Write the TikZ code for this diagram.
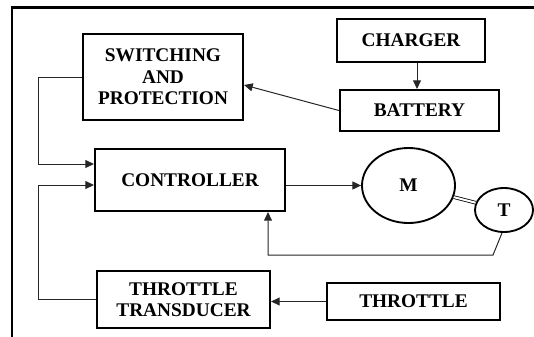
\documentclass[tikz,border=0pt]{standalone}
\usepackage{fontspec}
\setmainfont{Liberation Serif}
\usetikzlibrary{arrows.meta,shapes.geometric}
\tikzset{
  blk/.style={rectangle, draw, line width=1.6pt, align=center, inner sep=1pt,
    font=\fontsize{14.5}{16}\selectfont\bfseries},
  rot/.style={ellipse, draw, line width=1.4pt, inner sep=0pt,
    font=\fontsize{14.5}{16}\selectfont\bfseries},
  arr/.style={-{Triangle[length=6.5pt,width=6pt]}, line width=0.75pt, draw=black!85},
  frame/.style={line width=1.6pt}
}

\begin{document}
\begin{tikzpicture}[x=0.75pt,y=-0.75pt]
\useasboundingbox (0,0) rectangle (534,336);
\draw[frame] (12,345) -- (12,7.5) -- (545,7.5);

\node[blk, minimum width=120pt, minimum height=64.5pt] (sw) at (163,77) {SWITCHING\\AND\\PROTECTION};
\node[blk, minimum width=111pt, minimum height=32.25pt] (chg) at (411,40.5) {CHARGER};
\node[blk, minimum width=119.25pt, minimum height=30.75pt] (bat) at (419.5,110.5) {BATTERY};
\node[blk, minimum width=142.5pt, minimum height=46.5pt] (ctrl) at (190,180) {CONTROLLER};
\node[blk, minimum width=129.75pt, minimum height=42.75pt] (trans) at (183.5,299.5) {THROTTLE\\TRANSDUCER};
\node[blk, minimum width=129.75pt, minimum height=27.75pt] (thr) at (413.5,301.5) {THROTTLE};
\node[rot, minimum width=69.75pt, minimum height=56.25pt] (mot) at (408.5,185.5) {M};
\node[rot, minimum width=43.5pt, minimum height=33pt] (tach) at (504,210) {T};

\coordinate (lft) at (38,0);
\coordinate (fb) at (493,255);

\draw[arr] ([xshift=4.5pt]chg.south) -- ([xshift=4.5pt]chg.south |- bat.north);
\draw[arr] (bat.west) -- ([yshift=-6pt]sw.east);
\draw[arr] (sw.west) -- (sw.west -| lft) |- ([yshift=12pt]ctrl.west);
\draw[arr] (trans.west) -- (trans.west -| lft) |- ([yshift=-3.75pt]ctrl.west);
\draw[arr] (mot.west -| ctrl.east) -- (mot.west);
\draw[double, double distance=1.5pt, line width=0.6pt] (mot) -- (tach);
\draw[arr] ([xshift=-1.5pt]tach.south) -- (fb) -| ([xshift=58.5pt]ctrl.south);
\draw[arr] (thr.west) -- (thr.west -| trans.east);
\end{tikzpicture}
\end{document}
